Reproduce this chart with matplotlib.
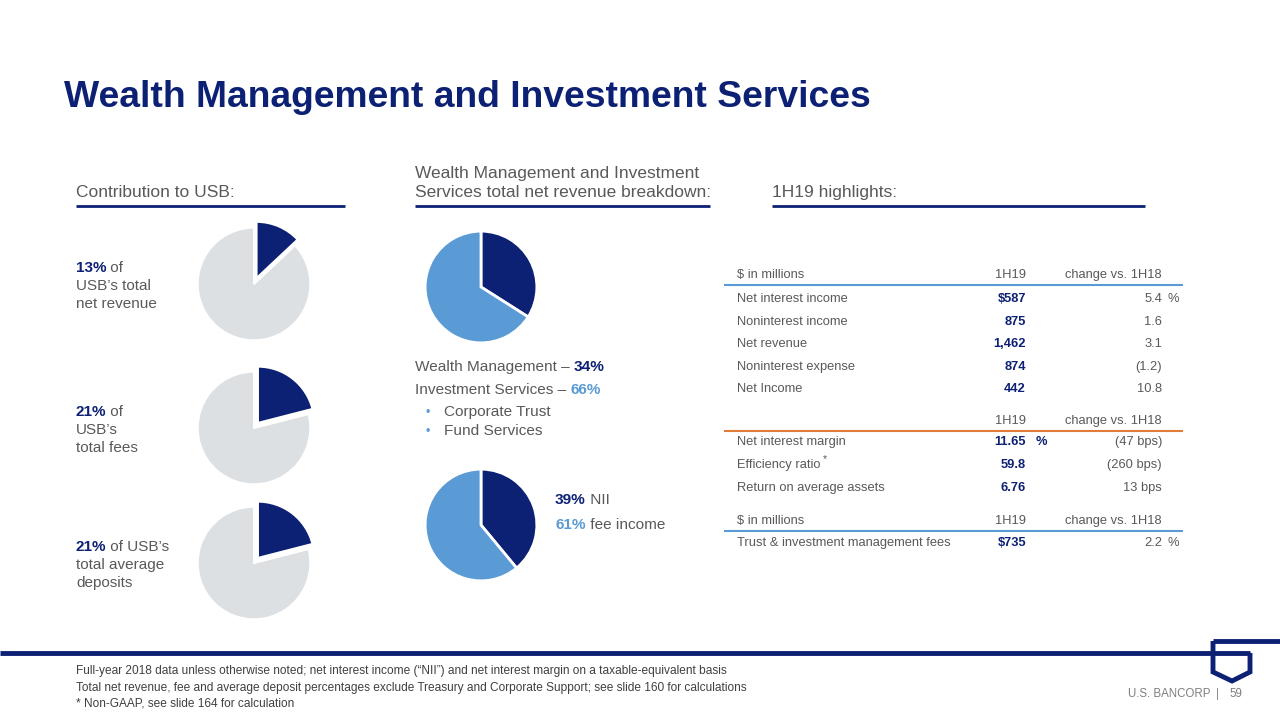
import matplotlib
matplotlib.use("Agg")
import matplotlib.pyplot as plt
from matplotlib.patches import Polygon

plt.rcParams['font.family'] = ['Liberation Sans', 'DejaVu Sans']

# colours
NAVY = '#0c2074'
LIGHT = '#5b9bd5'
GREY_PIE = '#dde0e3'
TEXT = '#595959'
ORANGE = '#e07b39'

# data
contrib_pct = [13, 21, 21]
contrib_lines = [["of", "USB\u2019s total", "net revenue"],
                 ["of", "USB\u2019s", "total fees"],
                 ["of USB\u2019s", "total average", "deposits"]]
breakdown_labels = ["Wealth Management", "Investment Services"]
breakdown_pct = [34, 66]
breakdown_items = ["Corporate Trust", "Fund Services"]
income_labels = ["NII", "fee income"]
income_pct = [39, 61]

t1_rows = ["Net interest income", "Noninterest income", "Net revenue",
           "Noninterest expense", "Net Income"]
t1_vals = ["$587", "875", "1,462", "874", "442"]
t1_chg = ["5.4", "1.6", "3.1", "(1.2)", "10.8"]
t2_rows = ["Net interest margin", "Efficiency ratio", "Return on average assets"]
t2_vals = ["11.65", "59.8", "6.76"]
t2_chg = ["(47 bps)", "(260 bps)", "13 bps"]
t3_rows = ["Trust & investment management fees"]
t3_vals = ["$735"]
t3_chg = ["2.2"]

fig = plt.figure(figsize=(12.8, 7.2), dpi=100)
ax = fig.add_axes([0, 0, 1, 1])
ax.set_xlim(0, 1280)
ax.set_ylim(720, 0)
ax.axis('off')
renderer = fig.canvas.get_renderer()


def px_axes(cx, cy, r):
    a = fig.add_axes([(cx - r) / 1280, 1 - (cy + r) / 720, 2 * r / 1280, 2 * r / 720])
    a.axis('off')
    return a


def segments(x, y, parts, size):
    # parts: list of (text, colour, bold); drawn one after another
    for txt, col, bold in parts:
        t = ax.text(x, y, txt, color=col, fontsize=size,
                    fontweight='bold' if bold else 'normal', va='baseline', ha='left')
        x += t.get_window_extent(renderer).width
    return x


# title
ax.text(64, 107, "Wealth Management and Investment Services", fontsize=26.8,
        fontweight='bold', color=NAVY, va='baseline')

# section headers
HS = 12.5
ax.text(76, 197, "Contribution to USB:", fontsize=HS, color=TEXT, va='baseline')
ax.text(415, 178, "Wealth Management and Investment", fontsize=HS, color=TEXT, va='baseline')
ax.text(415, 197, "Services total net revenue breakdown:", fontsize=HS, color=TEXT, va='baseline')
ax.text(772, 197, "1H19 highlights:", fontsize=HS, color=TEXT, va='baseline')
for x0, x1 in [(76, 345), (415, 710), (772, 1145)]:
    ax.plot([x0, x1], [206, 206], color=NAVY, lw=2, solid_capstyle='butt')

# left column pies
pie_cy = [284, 428, 563]
for pct, cy, lines in zip(contrib_pct, pie_cy, contrib_lines):
    pa = px_axes(254, cy, 64)
    pa.pie([pct, 100 - pct], colors=[NAVY, GREY_PIE], startangle=90,
           counterclock=False, explode=[0.1, 0], radius=0.88,
           wedgeprops=dict(edgecolor='white', linewidth=1.5))
    pa.set_xlim(-1, 1)
    pa.set_ylim(-1, 1)
    ty = cy - 12
    segments(76, ty, [(f"{pct}%", NAVY, True), (" " + lines[0], TEXT, False)], 11)
    ax.text(76, ty + 18, lines[1], fontsize=11, color=TEXT, va='baseline')
    ax.text(76, ty + 36, lines[2], fontsize=11, color=TEXT, va='baseline')

# middle pies
pa = px_axes(481, 287, 57)
pa.pie(breakdown_pct, colors=[NAVY, LIGHT], startangle=90, counterclock=False,
       radius=0.98, wedgeprops=dict(edgecolor='white', linewidth=2))
pa.set_xlim(-1, 1)
pa.set_ylim(-1, 1)

pa = px_axes(481, 525, 57)
pa.pie(income_pct, colors=[NAVY, LIGHT], startangle=90, counterclock=False,
       radius=0.98, wedgeprops=dict(edgecolor='white', linewidth=2))
pa.set_xlim(-1, 1)
pa.set_ylim(-1, 1)

MS = 11.1
segments(415, 371, [(breakdown_labels[0] + " \u2013 ", TEXT, False),
                    (f"{breakdown_pct[0]}%", NAVY, True)], MS)
segments(415, 394, [(breakdown_labels[1] + " \u2013 ", TEXT, False),
                    (f"{breakdown_pct[1]}%", LIGHT, True)], MS)
for i, item in enumerate(breakdown_items):
    yy = 416 + i * 19
    ax.text(426, yy, "\u2022", fontsize=9, color=LIGHT, va='baseline')
    ax.text(444, yy, item, fontsize=MS, color=TEXT, va='baseline')

segments(555, 504, [(f"{income_pct[0]}%", NAVY, True), (" " + income_labels[0], TEXT, False)], MS)
segments(555, 529, [(f"{income_pct[1]}%", LIGHT, True), (" " + income_labels[1], TEXT, False)], MS)

# table
LX, VX, CX = 737, 1026, 1162
FS = 9.3


def header(y, left, line_col):
    if left:
        ax.text(LX, y, left, fontsize=FS, color=TEXT, va='baseline')
    ax.text(VX, y, "1H19", fontsize=FS, color=TEXT, va='baseline', ha='right')
    ax.text(CX, y, "change vs. 1H18", fontsize=FS, color=TEXT, va='baseline', ha='right')
    ax.plot([724, 1183], [y + 7, y + 7], color=line_col, lw=1.5, solid_capstyle='butt')


def rows(y0, labels, vals, chgs, step=22.6):
    for i, (lab, v, c) in enumerate(zip(labels, vals, chgs)):
        y = y0 + i * step
        ax.text(LX, y, lab, fontsize=FS, color=TEXT, va='baseline')
        ax.text(VX, y, v, fontsize=FS, color=NAVY, fontweight='bold', va='baseline', ha='right')
        ax.text(CX, y, c, fontsize=FS, color=TEXT, va='baseline', ha='right')


header(278, "$ in millions", LIGHT)
rows(302, t1_rows, t1_vals, t1_chg)
ax.text(1168, 302, "%", fontsize=FS, color=TEXT, va='baseline')

header(424, None, ORANGE)
rows(445, t2_rows, t2_vals, t2_chg, step=23)
ax.text(1036, 445, "%", fontsize=FS, color=NAVY, fontweight='bold', va='baseline')
lab = [t for t in ax.texts if t.get_text() == t2_rows[1]][0]
ex = lab.get_window_extent(renderer).x1 + 2
ax.text(ex, 462, "*", fontsize=7.5, color=TEXT, va='baseline')

header(524, "$ in millions", LIGHT)
rows(546, t3_rows, t3_vals, t3_chg)
ax.text(1168, 546, "%", fontsize=FS, color=TEXT, va='baseline')

# bottom band and logo
ax.plot([0, 1250], [653, 653], color=NAVY, lw=3.5, solid_capstyle='butt')
ax.plot([1213, 1280], [641, 641], color=NAVY, lw=3.5, solid_capstyle='butt')
shield = Polygon([(1213, 641), (1213, 672), (1232, 681), (1250, 672), (1250, 653)],
                 closed=False, fill=False, edgecolor=NAVY, lw=3.5, joinstyle='miter')
ax.add_patch(shield)

ax.text(1128, 697, "U.S. BANCORP", fontsize=8.3, color='#7f7f7f', va='baseline')
ax.text(1216, 697, "|", fontsize=8.3, color='#7f7f7f', va='baseline')
ax.text(1229, 697, "59", fontsize=8.3, color='#7f7f7f', va='baseline')

# footnotes
notes = ["Full-year 2018 data unless otherwise noted; net interest income (\u201cNII\u201d) and net interest margin on a taxable-equivalent basis",
         "Total net revenue, fee and average deposit percentages exclude Treasury and Corporate Support; see slide 160 for calculations",
         "* Non-GAAP, see slide 164 for calculation"]
for i, n in enumerate(notes):
    ax.text(76, 674 + i * 16.5, n, fontsize=8.6, color='#404040', va='baseline')

fig.savefig("out.png", dpi=100)
